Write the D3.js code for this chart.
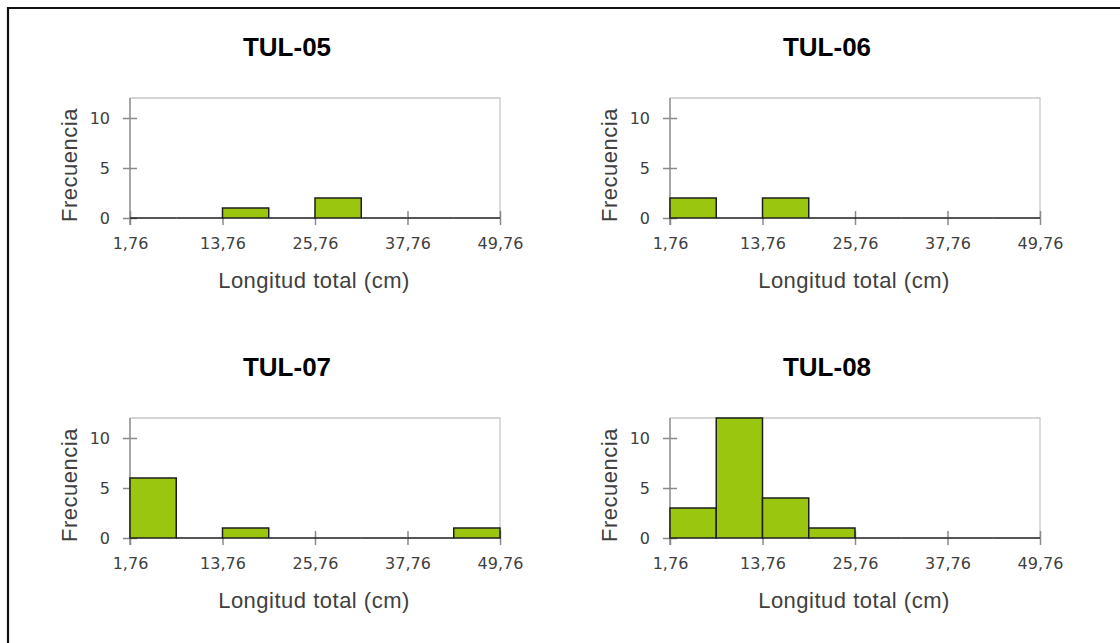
<!DOCTYPE html>
<html><head><meta charset="utf-8">
<script src="https://cdn.jsdelivr.net/npm/d3@7"></script>
<style>
html,body{margin:0;padding:0;background:#fff;}
svg{display:block;}
</style></head>
<body>
<svg id="chart" width="1120" height="643"></svg>
<script>
const panelTitles = ["TUL-05", "TUL-06", "TUL-07", "TUL-08"];
const binEdges = [1.76, 7.76, 13.76, 19.76, 25.76, 31.76, 37.76, 43.76, 49.76];
const xTickValues = [1.76, 13.76, 25.76, 37.76, 49.76];
const yTickValues = [0, 5, 10];
const tul05 = [0, 0, 1, 0, 2, 0, 0, 0];
const tul06 = [2, 0, 2, 0, 0, 0, 0, 0];
const tul07 = [6, 0, 1, 0, 0, 0, 0, 1];
const tul08 = [3, 12, 4, 1, 0, 0, 0, 0];
const seriesList = [tul05, tul06, tul07, tul08];
const xLabel = "Longitud total (cm)";
const yLabel = "Frecuencia";

const svg = d3.select("#chart");
// outer frame
svg.append("path").attr("d","M8,650 L8,8 L1130,8").attr("fill","none").attr("stroke","#111").attr("stroke-width",2.2);

const fmt = v => v.toFixed(2).replace(".", ",");
const plotW = 370, plotH = 121;
const origins = [[130,97],[670,97],[130,417],[670,417]];

seriesList.forEach((vals, i) => {
  const [ox, oy] = origins[i];
  const g = svg.append("g").attr("transform", `translate(${ox},${oy})`);
  const x = d3.scaleLinear().domain([binEdges[0], binEdges[binEdges.length-1]]).range([0, plotW]);
  const y = d3.scaleLinear().domain([0, 12]).range([plotH, 1]);

  // plot frame (top and right)
  g.append("path").attr("d", `M0,${y(12)} H${plotW} V${plotH}`).attr("fill","none").attr("stroke","#c8c8c8").attr("stroke-width",1.3);

  // y axis
  const yAxis = d3.axisLeft(y).tickValues(yTickValues).tickSize(0).tickPadding(20);
  const ya = g.append("g").call(yAxis);
  ya.select(".domain").attr("stroke","#8a8a8a").attr("stroke-width",1.5).attr("d", `M0,${y(12)}V${plotH+7}`);
  ya.selectAll(".tick line").remove();
  ya.selectAll(".tick").append("line").attr("x1",-7).attr("x2",7).attr("stroke","#8a8a8a").attr("stroke-width",1.5);
  ya.selectAll(".tick text").attr("font-family","DejaVu Sans").attr("font-size",16).attr("fill","#404040");

  // x axis
  const xAxis = d3.axisBottom(x).tickValues(xTickValues).tickFormat(fmt).tickSize(0).tickPadding(20);
  const xa = g.append("g").attr("transform", `translate(0,${plotH})`).call(xAxis);
  xa.select(".domain").remove();
  xa.selectAll(".tick line").remove();
  xa.selectAll(".tick").append("line").attr("y1",-7).attr("y2",7).attr("stroke","#8a8a8a").attr("stroke-width",1.5);
  xa.selectAll(".tick text").attr("font-family","DejaVu Sans").attr("font-size",16).attr("fill","#404040");

  // bars
  const bins = vals.map((v, k) => ({x0: binEdges[k], x1: binEdges[k+1], v}));
  g.selectAll("rect.bar").data(bins.filter(d => d.v > 0)).join("rect")
    .attr("class","bar")
    .attr("x", d => x(d.x0)).attr("width", d => x(d.x1) - x(d.x0))
    .attr("y", d => y(d.v)).attr("height", d => y(0) - y(d.v))
    .attr("fill","#9bc610").attr("stroke","#1e1e1e").attr("stroke-width",1.5);
  // zero-height bins drawn as dark baseline segments
  g.selectAll("line.zero").data(bins.filter(d => d.v === 0)).join("line")
    .attr("class","zero")
    .attr("x1", d => x(d.x0)).attr("x2", d => x(d.x1))
    .attr("y1", y(0)).attr("y2", y(0))
    .attr("stroke","#1e1e1e").attr("stroke-width",1.5);

  // title
  g.append("text").attr("x", 157).attr("y", -41).attr("text-anchor","middle")
    .attr("font-family","Liberation Sans, Arial").attr("font-weight","bold").attr("font-size",26)
    .attr("fill","#000").text(panelTitles[i]);
  // x label
  g.append("text").attr("x", 184).attr("y", 191).attr("text-anchor","middle")
    .attr("font-family","Liberation Sans, Arial").attr("font-size",22).attr("letter-spacing",0.5)
    .attr("fill","#404040").text(xLabel);
  // y label
  g.append("text").attr("transform", `translate(-53,${68}) rotate(-90)`).attr("text-anchor","middle")
    .attr("font-family","Liberation Sans, Arial").attr("font-size",22).attr("letter-spacing",0.5)
    .attr("fill","#404040").text(yLabel);
});
</script>
</body></html>
